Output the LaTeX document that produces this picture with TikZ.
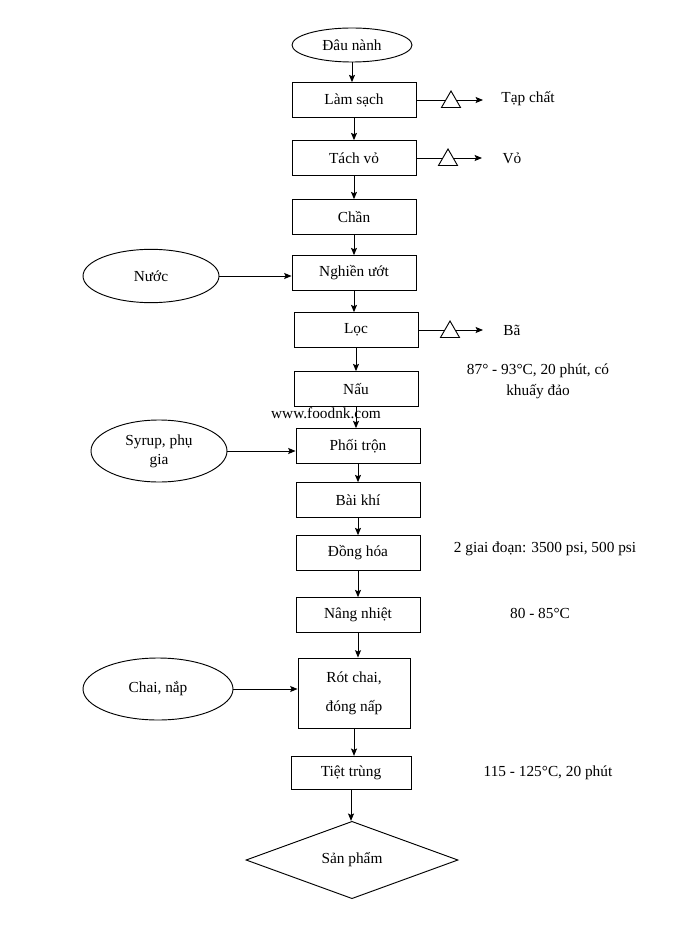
\documentclass[tikz,border=0pt]{standalone}
\usepackage{fontspec}
\setmainfont{Liberation Serif}
\usetikzlibrary{shapes,arrows.meta}

\begin{document}
\begin{tikzpicture}[x=0.75pt,y=-0.75pt,->,>={Stealth[length=5.5pt,width=4.5pt,inset=1pt]},
                    line width=0.7pt,
                    font=\fontsize{11.5}{14}\selectfont,
                    proc/.style={draw,rectangle,minimum width=93pt,minimum height=26pt,inner sep=2pt},
                    feed/.style={draw,ellipse,inner sep=1pt,align=center},
                    drop/.style={draw,fill=white,regular polygon,regular polygon sides=3,
                                 minimum size=16.5pt,inner sep=0pt},
                    note/.style={align=center}]

  \useasboundingbox (0,0) rectangle (696,930);

  \node[feed,minimum width=90pt,minimum height=25.5pt] (dau) at (352,45) {Đâu nành};
  \node[proc]            (lamsach) at (354,100) {Làm sạch};
  \node[proc]            (tach)    at (354,158) {Tách vỏ};
  \node[proc]            (chan)    at (354,217) {Chần};
  \node[proc]            (nghien)  at (354,273) {Nghiền ướt};
  \node[proc]            (loc)     at (356,330) {Lọc};
  \node[proc]            (nau)     at (356,389) {Nấu};
  \node[proc]            (phoi)    at (358,446) {Phối trộn};
  \node[proc]            (baikhi)  at (358,500) {Bài khí};
  \node[proc]            (donghoa) at (358,553) {Đồng hóa};
  \node[proc]            (nang)    at (358,615) {Nâng nhiệt};
  \node[proc,minimum width=84pt,minimum height=52.5pt,align=center]
                         (rot)     at (354,693) {Rót chai,\\[8pt]đóng nấp};
  \node[proc,minimum width=90pt,minimum height=25pt]
                         (tiet)    at (351,773) {Tiệt trùng};
  \node[draw,diamond,minimum width=159pt,minimum height=58pt,inner sep=0pt]
                         (sanpham) at (352,860) {Sản phẩm};

  % nguyen lieu phu
  \node[feed,minimum width=102pt,minimum height=40pt]   (nuoc)  at (151,276) {Nước};
  \node[feed,minimum width=102pt,minimum height=46.5pt] (syrup) at (159,451) {Syrup, phụ\\gia};
  \node[feed,minimum width=112.5pt,minimum height=46.5pt] (chai) at (158,689) {Chai, nắp};

  % dong chinh
  \draw (dau)     -- (dau |- lamsach.north);
  \draw (lamsach) -- (lamsach |- tach.north);
  \draw (tach)    -- (tach |- chan.north);
  \draw (chan)    -- (chan |- nghien.north);
  \draw (nghien)  -- (nghien |- loc.north);
  \draw (loc)     -- (loc |- nau.north);
  \draw (nau)     -- (nau |- phoi.north);
  \draw (phoi)    -- (phoi |- baikhi.north);
  \draw (baikhi)  -- (baikhi |- donghoa.north);
  \draw (donghoa) -- (donghoa |- nang.north);
  \draw (nang)    -- (nang |- rot.north);
  \draw (rot)     -- (rot |- tiet.north);
  \draw (tiet)    -- (tiet |- sanpham.north);

  \draw (nuoc)  -- (nuoc -| nghien.west);
  \draw (syrup) -- (syrup -| phoi.west);
  \draw (chai)  -- (chai -| rot.west);

  % chat thai
  \coordinate (tap) at (483,100);
  \coordinate (vo)  at (482,158);
  \coordinate (ba)  at (483,330);
  \draw (lamsach) -- (tap);
  \draw (tach)    -- (vo);
  \draw (loc)     -- (ba);
  \node[drop] (t1) at (451,102) {};
  \node[drop] (t2) at (448,160) {};
  \node[drop] (t3) at (450,332) {};
  \node (taplbl) at (528,99)  {Tạp chất};
  \node (volbl)  at (512,158) {Vỏ};
  \node (balbl)  at (512,330) {Bã};

  % thong so
  \node[note] (n1) at (538,381) {87° - 93°C, 20 phút, có\\[2pt]khuấy đảo};
  \node[note] (n2) at (545,549) {2 giai đoạn: 3500 psi, 500 psi};
  \node[note] (n3) at (540,613) {80 - 85°C};
  \node[note] (n4) at (548,773) {115 - 125°C, 20 phút};
  \node (web) at (326,413) {www.foodnk.com};
\end{tikzpicture}
\end{document}
